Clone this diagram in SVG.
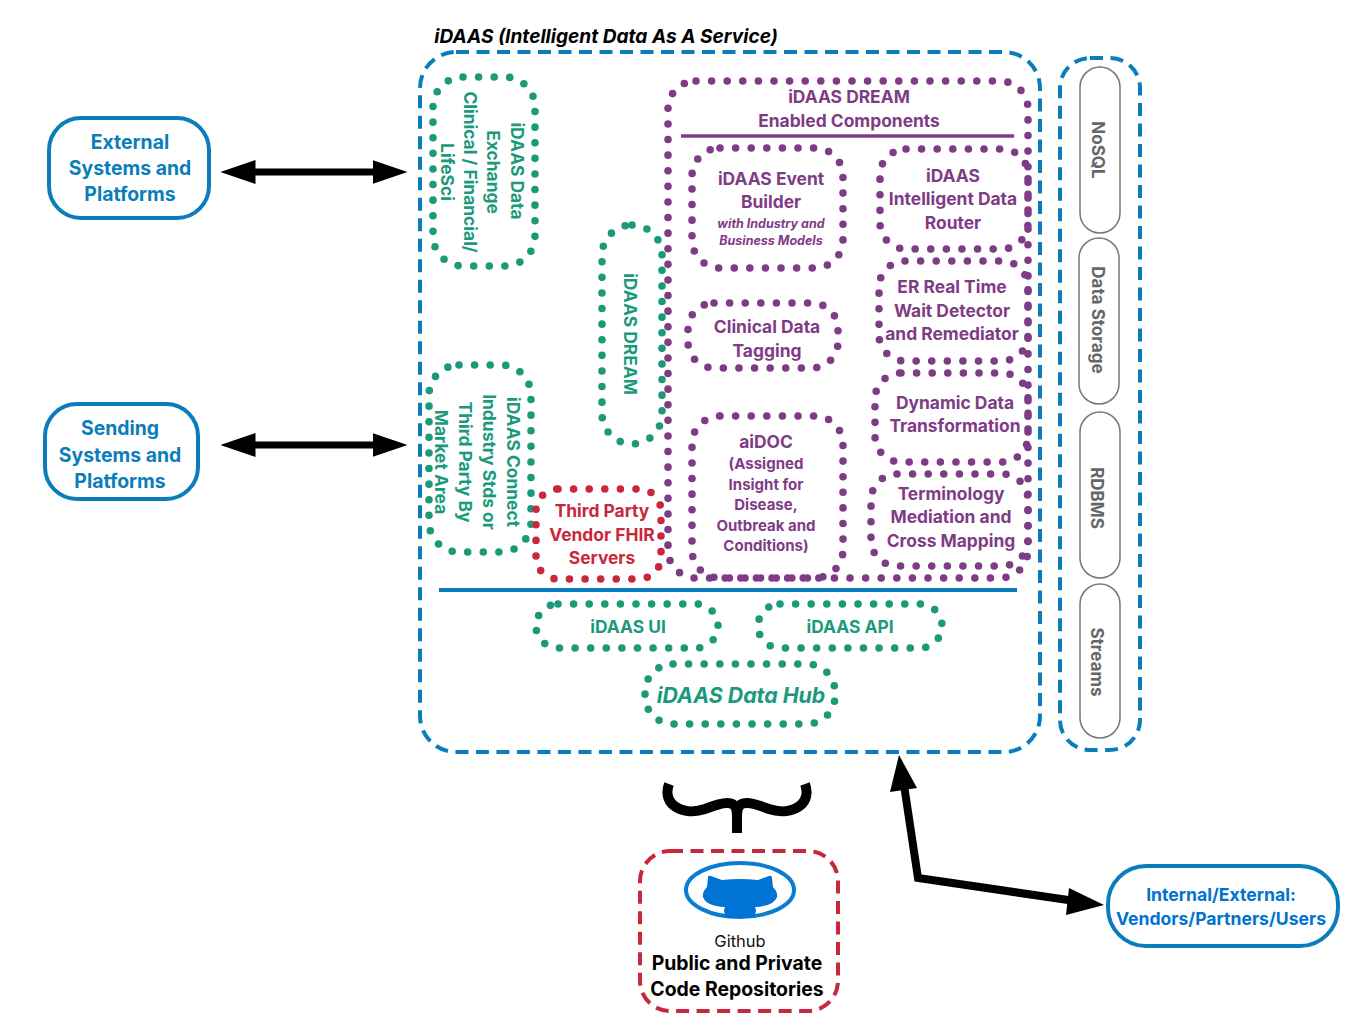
<svg xmlns="http://www.w3.org/2000/svg" width="1360" height="1036" viewBox="0 0 1360 1036">
<style>
text{font-family:"Inter","Liberation Sans",sans-serif;font-weight:700;text-anchor:middle;font-size:17.4px}
.gt{fill:#1a9a7b}.pt{fill:#7f3c86}.rt{fill:#c9283c}.bt{fill:#0b7dbb}
.dot{fill:none;stroke-width:7.6;stroke-linecap:round;stroke-dasharray:0 15.6}
.g{stroke:#1a9a7b}.p{stroke:#7f3c86}.r{stroke:#c9283c}
.dash{fill:none;stroke-width:4;stroke-dasharray:13 7.5}
.box{fill:#fff;stroke:#0b7dbb;stroke-width:4}
.pill{fill:#fff;stroke:#777;stroke-width:1.5}
.pl{fill:#666;font-size:17px}
.arrow{fill:none;stroke:#000;stroke-width:7;marker-start:url(#h);marker-end:url(#h)}
</style>
<defs>
<marker id="h" viewBox="0 0 5 3.4" refX="0.5" refY="1.7" markerWidth="5" markerHeight="3.4" orient="auto-start-reverse"><path d="M0 1.7V0L5 1.7L0 3.4Z" fill="#000"/></marker>
</defs>
<g id="idaas">
<rect class="dash" x="420" y="52" width="620" height="700" rx="36" stroke="#0b7dbb"/>
<text x="606" y="43" style="font-size:19.1px;font-style:italic" fill="#000">iDAAS (Intelligent Data As A Service)</text>
<path d="M439 590H1017" stroke="#0b7dbb" stroke-width="4"/>
</g>
<g id="storage">
<rect class="dash" x="1060" y="58" width="80" height="692" rx="30" stroke="#0b7dbb"/>
<rect class="pill" x="1080" y="67" width="40" height="166" rx="20"/>
<text class="pl" transform="translate(1098,150) rotate(90)" dy=".35em">NoSQL</text>
<rect class="pill" x="1079" y="238" width="40" height="166" rx="20"/>
<text class="pl" transform="translate(1098,320) rotate(90)" dy=".35em">Data Storage</text>
<rect class="pill" x="1080" y="412" width="40" height="166" rx="20"/>
<text class="pl" transform="translate(1097,498) rotate(90)" dy=".35em">RDBMS</text>
<rect class="pill" x="1080" y="584" width="40" height="154" rx="20"/>
<text class="pl" transform="translate(1097,662) rotate(90)" dy=".35em">Streams</text>
</g>
<g id="exchange">
<rect class="dot g" x="433" y="77" width="102" height="189" rx="30"/>
<g class="gt">
<text transform="translate(517,171) rotate(90)" dy=".35em">iDAAS Data</text>
<text transform="translate(493,172) rotate(90)" dy=".35em">Exchange</text>
<text transform="translate(470,172) rotate(90)" dy=".35em">Clinical / Financial/</text>
<text transform="translate(447,172) rotate(90)" dy=".35em">LifeSci</text>
</g>
</g>
<g id="connect">
<rect class="dot g" x="429" y="365" width="102" height="187" rx="30"/>
<g class="gt">
<text transform="translate(513,462) rotate(90)" dy=".35em">iDAAS Connect</text>
<text transform="translate(489,462) rotate(90)" dy=".35em">Industry Stds or</text>
<text transform="translate(465,462) rotate(90)" dy=".35em">Third Party By</text>
<text transform="translate(441,462) rotate(90)" dy=".35em">Market Area</text>
</g>
</g>
<g id="dream">
<rect class="dot g" x="602" y="225" width="60" height="219" rx="30"/>
<text class="gt" transform="translate(630,334) rotate(90)" dy=".35em">iDAAS DREAM</text>
</g>
<g id="enabled">
<rect class="dot p" x="668" y="81" width="360" height="497" rx="28"/>
<text class="pt" x="849" y="103">iDAAS DREAM</text>
<text class="pt" x="849" y="127">Enabled Components</text>
<path d="M681 136H1014" stroke="#7f3c86" stroke-width="3.5"/>
</g>
<g id="event">
<rect class="dot p" x="692" y="148" width="151" height="120" rx="28"/>
<text class="pt" x="771" y="185">iDAAS Event</text>
<text class="pt" x="771" y="208">Builder</text>
<text class="pt" x="771" y="228" style="font-size:12.5px;font-style:italic">with Industry and</text>
<text class="pt" x="771" y="245" style="font-size:12.5px;font-style:italic">Business Models</text>
</g>
<g id="router">
<rect class="dot p" x="880" y="149" width="148" height="100" rx="26"/>
<text class="pt" x="953" y="182">iDAAS</text>
<text class="pt" x="953" y="205">Intelligent Data</text>
<text class="pt" x="953" y="229">Router</text>
</g>
<g id="er">
<rect class="dot p" x="879" y="261" width="149" height="100" rx="26"/>
<text class="pt" x="952" y="293">ER Real Time</text>
<text class="pt" x="952" y="317">Wait Detector</text>
<text class="pt" x="952" y="340">and Remediator</text>
</g>
<g id="tagging">
<rect class="dot p" x="688" y="303" width="150" height="65" rx="26"/>
<text class="pt" x="767" y="333">Clinical Data</text>
<text class="pt" x="767" y="357">Tagging</text>
</g>
<g id="dynamic">
<rect class="dot p" x="875" y="373" width="153" height="89" rx="26"/>
<text class="pt" x="955" y="409">Dynamic Data</text>
<text class="pt" x="955" y="432">Transformation</text>
</g>
<g id="terminology">
<rect class="dot p" x="871" y="474" width="157" height="92" rx="26"/>
<text class="pt" x="951" y="500">Terminology</text>
<text class="pt" x="951" y="523">Mediation and</text>
<text class="pt" x="951" y="547">Cross Mapping</text>
</g>
<g id="aidoc">
<rect class="dot p" x="692" y="416" width="151" height="162" rx="28"/>
<text class="pt" x="766" y="448">aiDOC</text>
<text class="pt" x="766" y="469" style="font-size:15px">(Assigned</text>
<text class="pt" x="766" y="490" style="font-size:15px">Insight for</text>
<text class="pt" x="766" y="510" style="font-size:15px">Disease,</text>
<text class="pt" x="766" y="531" style="font-size:15px">Outbreak and</text>
<text class="pt" x="766" y="551" style="font-size:15px">Conditions)</text>
</g>
<g id="fhir">
<rect class="dot r" x="536" y="489" width="125" height="90" rx="22"/>
<text class="rt" x="602" y="517">Third Party</text>
<text class="rt" x="602" y="541">Vendor FHIR</text>
<text class="rt" x="602" y="564">Servers</text>
</g>
<g id="ui">
<rect class="dot g" x="536" y="604" width="182" height="44" rx="22"/>
<text class="gt" x="628" y="633">iDAAS UI</text>
</g>
<g id="api">
<rect class="dot g" x="758" y="604" width="184" height="44" rx="22"/>
<text class="gt" x="850" y="633">iDAAS API</text>
</g>
<g id="hub">
<rect class="dot g" x="645" y="664" width="190" height="60" rx="28"/>
<text class="gt" x="741" y="703" style="font-size:21.3px;font-style:italic">iDAAS Data Hub</text>
</g>
<g id="external">
<rect class="box" x="49" y="118" width="160" height="100" rx="32"/>
<text class="bt" x="130" y="149" style="font-size:19.4px">External</text>
<text class="bt" x="130" y="175" style="font-size:19.4px">Systems and</text>
<text class="bt" x="130" y="201" style="font-size:19.4px">Platforms</text>
</g>
<g id="sending">
<rect class="box" x="45" y="404" width="153" height="95" rx="32"/>
<text class="bt" x="120" y="435" style="font-size:19.4px">Sending</text>
<text class="bt" x="120" y="462" style="font-size:19.4px">Systems  and</text>
<text class="bt" x="120" y="488" style="font-size:19.4px">Platforms</text>
</g>
<g id="partners">
<rect class="box" x="1108" y="866" width="230" height="80" rx="38"/>
<text x="1221" y="901" style="font-size:17.6px;fill:#0073d0">Internal/External:</text>
<text x="1221" y="925" style="font-size:17.6px;fill:#0073d0">Vendors/Partners/Users</text>
</g>
<g id="github">
<rect class="dash" x="640" y="851" width="198" height="160" rx="30" stroke="#c9283c"/>
<ellipse cx="740" cy="890" rx="54" ry="27" fill="#fff" stroke="#0b7dd0" stroke-width="4"/>
<path d="M708 877Q708 875 711 876L722 880Q740 878 758 880L769 876Q772 875 772 878L773 887Q778 892 777 897Q774 906 755 907Q757 911 755 914Q753 918 749 918H731Q727 918 725 914Q723 911 725 907Q706 906 703 897Q702 892 707 887Z" fill="#0073d5"/>
<text x="740" y="947" style="font-size:16.5px;font-weight:400" fill="#111">Github</text>
<text x="737" y="970" style="font-size:19.4px" fill="#000">Public and Private</text>
<text x="737" y="996" style="font-size:19.4px" fill="#000">Code Repositories</text>
</g>
<g id="connectors">
<path class="arrow" d="M252 172H376"/>
<path class="arrow" d="M252 445H376"/>
<path d="M669 784C661 806 685 816 705 809C723 802 737 798 737 815V833M805 784C813 806 789 816 769 809C751 802 737 798 737 815" fill="none" stroke="#000" stroke-width="10"/>
<path d="M904 785L918 878L1075 901" fill="none" stroke="#000" stroke-width="8"/>
<path d="M899 755L890 792L917 788Z M1104 905L1069 888L1066 915Z" fill="#000"/>
</g>
</svg>
